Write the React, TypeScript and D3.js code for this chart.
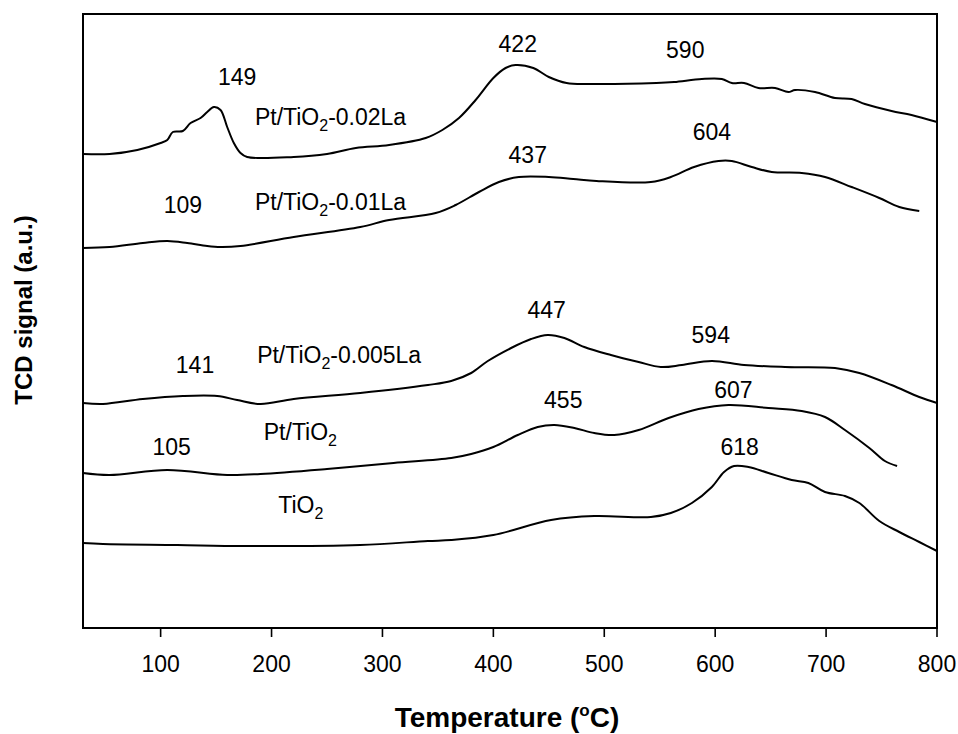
import React from "react";
import * as d3 from "d3";

// Temperature (°C), TCD signal (a.u., stacked offsets)
const la002: [number, number][] = [
  [30, 4.74], [54, 4.74], [79, 4.78], [100, 4.85], [106, 4.88], [111, 4.96], [120, 4.97],
  [127, 5.05], [136, 5.1], [142, 5.16], [148, 5.21], [154, 5.18], [160, 5.01], [166, 4.85],
  [172, 4.75], [178, 4.71], [220, 4.71], [250, 4.74], [276, 4.8], [306, 4.83], [339, 4.9],
  [354, 4.98], [369, 5.1], [384, 5.28], [400, 5.5], [411, 5.6], [420, 5.63], [436, 5.6],
  [450, 5.51], [466, 5.45], [486, 5.44], [547, 5.45], [563, 5.46], [588, 5.49], [606, 5.49],
  [615, 5.45], [626, 5.45], [639, 5.4], [654, 5.4], [666, 5.36], [672, 5.38], [690, 5.36],
  [708, 5.3], [723, 5.29], [735, 5.24], [759, 5.17], [777, 5.13], [800, 5.06],
];
const la001: [number, number][] = [
  [30, 3.8], [54, 3.81], [84, 3.85], [106, 3.87], [124, 3.85], [142, 3.82], [154, 3.81],
  [172, 3.82], [220, 3.91], [280, 4.01], [306, 4.08], [348, 4.15], [366, 4.23], [387, 4.36],
  [405, 4.46], [423, 4.51], [450, 4.51], [472, 4.49], [493, 4.47], [542, 4.46], [560, 4.51],
  [581, 4.61], [603, 4.67], [615, 4.67], [633, 4.61], [651, 4.56], [678, 4.55], [699, 4.51],
  [723, 4.41], [748, 4.3], [766, 4.21], [784, 4.17],
];
const la0005: [number, number][] = [
  [30, 2.25], [48, 2.24], [84, 2.29], [120, 2.32], [151, 2.32], [169, 2.28], [190, 2.24],
  [220, 2.29], [280, 2.35], [341, 2.43], [362, 2.47], [380, 2.55], [395, 2.67], [416, 2.8],
  [434, 2.89], [449, 2.93], [464, 2.9], [482, 2.81], [506, 2.73], [531, 2.66], [551, 2.61],
  [570, 2.63], [597, 2.67], [626, 2.63], [663, 2.61], [708, 2.6], [730, 2.55], [759, 2.43],
  [784, 2.31], [800, 2.25],
];
const ptTiO2: [number, number][] = [
  [30, 1.55], [54, 1.53], [106, 1.58], [160, 1.53], [190, 1.54], [250, 1.59], [310, 1.65],
  [362, 1.7], [380, 1.74], [400, 1.81], [422, 1.93], [440, 2.01], [455, 2.03], [473, 2.0],
  [491, 1.95], [509, 1.93], [531, 1.98], [558, 2.1], [585, 2.19], [612, 2.23], [648, 2.2],
  [678, 2.17], [699, 2.11], [717, 1.98], [739, 1.8], [753, 1.67], [764, 1.62],
];
const tiO2: [number, number][] = [
  [30, 0.85], [48, 0.84], [115, 0.83], [175, 0.82], [280, 0.83], [341, 0.87], [362, 0.88],
  [400, 0.93], [452, 1.08], [491, 1.12], [542, 1.11], [560, 1.15], [579, 1.25], [597, 1.41],
  [608, 1.56], [617, 1.62], [630, 1.61], [648, 1.55], [669, 1.48], [684, 1.45], [699, 1.36],
  [717, 1.32], [730, 1.25], [748, 1.07], [766, 0.96], [784, 0.86], [800, 0.77],
];
const series = [la002, la001, la0005, ptTiO2, tiO2];

const xTicks = [100, 200, 300, 400, 500, 600, 700, 800];

// peak labels: [text, temperature, signal]
const peakLabels: [string, number, number][] = [
  ["149", 169, 5.43], ["422", 422, 5.76], ["590", 573, 5.7],
  ["109", 120, 4.15], ["437", 431, 4.65], ["604", 597, 4.88],
  ["141", 131, 2.55], ["447", 448, 3.1], ["594", 596, 2.85],
  ["105", 110, 1.73], ["455", 463, 2.2], ["607", 616.5, 2.3],
  ["618", 622, 1.73],
];
// sample labels: [prefix, subscript, suffix, temperature, signal]
const sampleLabels: [string, string, string, number, number][] = [
  ["Pt/TiO", "2", "-0.02La", 185, 5.03],
  ["Pt/TiO", "2", "-0.01La", 185, 4.18],
  ["Pt/TiO", "2", "-0.005La", 187, 2.65],
  ["Pt/TiO", "2", "", 193, 1.88],
  ["TiO", "2", "", 206, 1.15],
];

const W = 958, H = 734;
const M = { left: 83, right: 937, top: 14, bottom: 628 };
const FONT = "'Liberation Sans', Arial, sans-serif";

export default function App() {
  const x = d3.scaleLinear().domain([30, 800]).range([M.left, M.right]);
  const y = d3.scaleLinear().domain([0, 6.14]).range([M.bottom, M.top]);
  const line = d3
    .line<[number, number]>()
    .x((d) => x(d[0]))
    .y((d) => y(d[1]))
    .curve(d3.curveCatmullRom.alpha(0.5));

  return (
    <svg
      width={W}
      height={H}
      style={{ position: "absolute", left: 0, top: 0, background: "#fff" }}
      fontFamily={FONT}
    >
      <rect x={0} y={0} width={W} height={H} fill="#fff" />
      {series.map((s, i) => (
        <path key={i} d={line(s) || ""} fill="none" stroke="#000" strokeWidth={2} strokeLinejoin="round" />
      ))}
      <rect
        x={M.left}
        y={M.top}
        width={M.right - M.left}
        height={M.bottom - M.top}
        fill="none"
        stroke="#000"
        strokeWidth={2}
      />
      {xTicks.map((t) => (
        <g key={t}>
          <line x1={x(t)} x2={x(t)} y1={M.bottom} y2={M.bottom + 9} stroke="#000" strokeWidth={1.6} />
          <text x={x(t)} y={672} textAnchor="middle" fontSize={23} fill="#000">
            {t}
          </text>
        </g>
      ))}
      {peakLabels.map(([txt, t, v]) => (
        <text key={txt} x={x(t)} y={y(v)} textAnchor="middle" fontSize={23} fill="#000">
          {txt}
        </text>
      ))}
      {sampleLabels.map(([a, sub, b, t, v], i) => (
        <text key={i} x={x(t)} y={y(v)} fontSize={23} fill="#000">
          {a}
          <tspan fontSize={16} dy={6}>
            {sub}
          </tspan>
          {b ? <tspan dy={-6}>{b}</tspan> : null}
        </text>
      ))}
      <text x={507} y={727} textAnchor="middle" fontSize={28} fontWeight="bold" fill="#000">
        Temperature (
        <tspan fontSize={17} dy={-11}>o</tspan>
        <tspan dy={11}>C)</tspan>
      </text>
      <text
        transform={`translate(32, 310) rotate(-90)`}
        textAnchor="middle"
        fontSize={24}
        fontWeight="bold"
        fill="#000"
      >
        TCD signal (a.u.)
      </text>
    </svg>
  );
}
